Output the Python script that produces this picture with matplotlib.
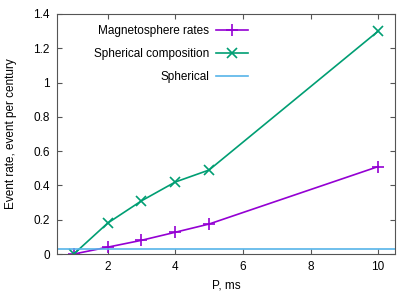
import numpy as np
import matplotlib.pyplot as plt

P = [1, 2, 3, 4, 5, 10]
magneto = [0.0, 0.04, 0.08, 0.127, 0.175, 0.51]
spher_comp = [0.0, 0.18, 0.31, 0.42, 0.49, 1.30]
spherical = 0.03

xticks = [2, 4, 6, 8, 10]
yticks = [0, 0.2, 0.4, 0.6, 0.8, 1, 1.2, 1.4]
ylabels = ['0', '0.2', '0.4', '0.6', '0.8', '1', '1.2', '1.4']

plt.rcParams['font.family'] = 'Liberation Sans'
fig = plt.figure(figsize=(4.15, 2.91), dpi=100)
ax = fig.add_axes([0.137, 0.127, 0.815, 0.825])

ax.plot(P, magneto, color='#9400d3', lw=1.2, marker='+', ms=8, mew=1.2,
        label='Magnetosphere rates')
ax.plot(P, spher_comp, color='#009e73', lw=1.2, marker='x', ms=7.5, mew=1.2,
        label='Spherical composition')
ax.axhline(spherical, color='#56b4e9', lw=1.2, label='Spherical')

ax.set_xlim(0.5, 10.5)
ax.set_ylim(0, 1.4)
ax.set_xticks(xticks)
ax.set_yticks(yticks)
ax.set_yticklabels(ylabels)
ax.tick_params(direction='in', top=True, right=True, labelsize=8.5,
               color='#555555', pad=5)
for s in ax.spines.values():
    s.set_color('#555555')
ax.set_xlabel('P, ms', fontsize=8.5, labelpad=5)
ax.set_ylabel('Event rate, event per century', fontsize=8.5, labelpad=12)

ax.legend(loc='upper left', bbox_to_anchor=(0.085, 0.99), frameon=False,
          markerfirst=False, fontsize=8.5, handlelength=2.7, labelspacing=0.95,
          handletextpad=0.6, borderaxespad=0.3)

fig.savefig('out.png', dpi=100)
